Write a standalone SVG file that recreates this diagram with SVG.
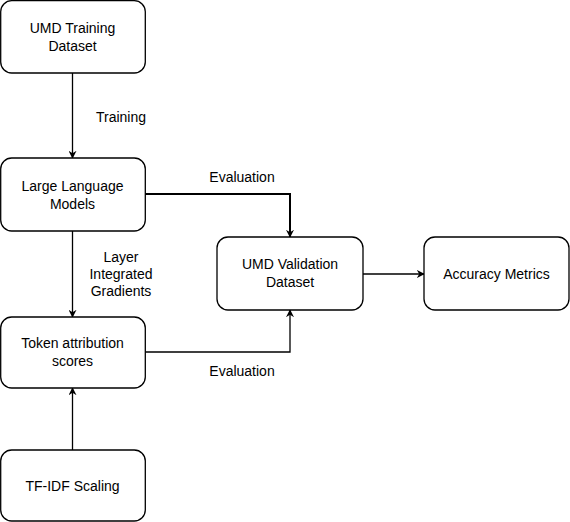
<svg xmlns="http://www.w3.org/2000/svg" width="570" height="522" viewBox="0 0 570 522">
<defs>
<marker id="ah" viewBox="0 0 10 10" refX="9" refY="5" markerWidth="8" markerHeight="8" markerUnits="userSpaceOnUse" orient="auto">
<path d="M0,0 L10,5 L0,10 L3,5 Z" fill="#000"/>
</marker>
<style>
.box{fill:#fff;stroke:#000;stroke-width:1.3}
.t{font-family:"Liberation Sans",Arial,sans-serif;font-size:14px;fill:#000;text-anchor:middle}
.c{fill:none;stroke:#000;stroke-width:1.3}
</style>
</defs>
<rect width="570" height="522" fill="#fff"/>
<g id="connectors">
<line class="c" x1="72.5" y1="73" x2="72.5" y2="158" marker-end="url(#ah)"/>
<line class="c" x1="72.5" y1="231" x2="72.5" y2="317" marker-end="url(#ah)"/>
<line class="c" x1="72.5" y1="450" x2="72.5" y2="388" marker-end="url(#ah)"/>
<polyline class="c" style="stroke-width:2" points="145,194 290,194 290,237" marker-end="url(#ah)"/>
<polyline class="c" points="145,352 290,352 290,310" marker-end="url(#ah)"/>
<line class="c" x1="363" y1="274" x2="424" y2="274" marker-end="url(#ah)"/>
<text class="t" x="121" y="122">Training</text>
<text class="t" x="242" y="182">Evaluation</text>
<text class="t" x="121" y="262">Layer</text>
<text class="t" x="121" y="279">Integrated</text>
<text class="t" x="121" y="296">Gradients</text>
<text class="t" x="242" y="376">Evaluation</text>
</g>
<g id="n1"><rect class="box" x="0.7" y="0.7" width="144.6" height="72.3" rx="11"/><text class="t" x="72.5" y="33">UMD Training</text><text class="t" x="72.5" y="51">Dataset</text></g>
<g id="n2"><rect class="box" x="0.7" y="158" width="144.6" height="73" rx="11"/><text class="t" x="72.5" y="191">Large Language</text><text class="t" x="72.5" y="209">Models</text></g>
<g id="n3"><rect class="box" x="0.7" y="317" width="144.6" height="71" rx="11"/><text class="t" x="72.5" y="348">Token attribution</text><text class="t" x="72.5" y="366">scores</text></g>
<g id="n4"><rect class="box" x="0.7" y="450" width="144.6" height="71" rx="11"/><text class="t" x="72.5" y="491">TF-IDF Scaling</text></g>
<g id="n5"><rect class="box" x="217" y="237" width="146" height="73" rx="11"/><text class="t" x="290" y="269">UMD Validation</text><text class="t" x="290" y="287">Dataset</text></g>
<g id="n6"><rect class="box" x="424" y="237" width="145" height="73" rx="11"/><text class="t" x="496.5" y="279">Accuracy Metrics</text></g>
</svg>
